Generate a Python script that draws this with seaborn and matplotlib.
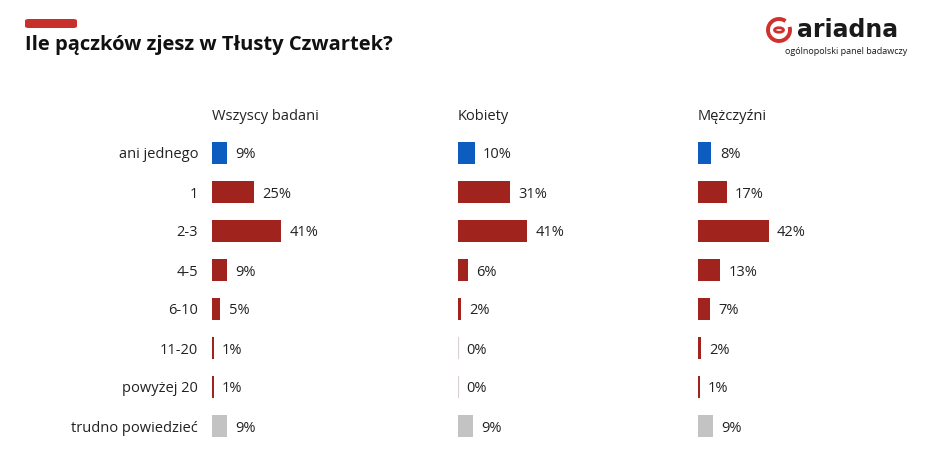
import matplotlib
matplotlib.use('Agg')
import matplotlib.pyplot as plt
from matplotlib.patches import FancyBboxPatch, Arc, Circle
import seaborn as sns
import pandas as pd

categories = ['ani jednego', '1', '2-3', '4-5', '6-10', '11-20', 'powyżej 20', 'trudno powiedzieć']
wszyscy = [9, 25, 41, 9, 5, 1, 1, 9]
kobiety = [10, 31, 41, 6, 2, 0, 0, 9]
mezczyzni = [8, 17, 42, 13, 7, 2, 1, 9]
groups = ['Wszyscy badani', 'Kobiety', 'Mężczyźni']

BLUE = '#0d5cbf'
RED = '#a0231e'
GRAY = '#c3c3c3'
palette = [BLUE] + [RED] * 6 + [GRAY]

sns.set_style('white')
plt.rcParams['font.family'] = ['Open Sans', 'DejaVu Sans']

fig = plt.figure(figsize=(9.25, 4.62), dpi=100)
W, H = 925, 462

lefts = [212, 458, 698]
ax_w = 168 / W
ax_b = 1 - 445.5 / H
ax_h = 312 / H

for i, (name, vals) in enumerate(zip(groups, [wszyscy, kobiety, mezczyzni])):
    df = pd.DataFrame({'cat': categories, 'val': vals})
    ax = fig.add_axes([lefts[i] / W, ax_b, ax_w, ax_h])
    sns.barplot(data=df, x='val', y='cat', hue='cat', palette=palette, legend=False,
                orient='h', width=0.56, ax=ax, saturation=1)
    for p in ax.patches:
        p.set_linewidth(0)
        if p.get_width() == 0:
            p.set_edgecolor('#dcd0d0')
            p.set_linewidth(1.6)
    for c in ax.containers:
        for t in ax.bar_label(c, labels=[f'{v:g}%' for v in c.datavalues], padding=6,
                              fontsize=10.5, color='#222222'):
            t.set_va('center_baseline')
    ax.set_xlim(0, 100)
    ax.set_ylim(7.5, -0.5)
    ax.set_xlabel('')
    ax.set_ylabel('')
    ax.set_xticks([])
    for s in ax.spines.values():
        s.set_visible(False)
    if i == 0:
        ax.tick_params(axis='y', length=0, pad=10, labelsize=10.5, labelcolor='#222222')
        for t in ax.get_yticklabels():
            t.set_va('center_baseline')
    else:
        ax.set_yticks([])
    fig.text(lefts[i] / W, 1 - 114 / H, name, fontsize=10.5, color='#222222',
             ha='left', va='center_baseline')

# title and accent bar
fig.patches.append(FancyBboxPatch((25 / W, 1 - 28 / H), 52 / W, 9 / H,
                                  boxstyle='round,pad=0,rounding_size=0.004',
                                  transform=fig.transFigure, color='#c8302c', lw=0))
fig.text(25 / W, 1 - 45 / H, 'Ile pączków zjesz w Tłusty Czwartek?', fontsize=14.5,
         fontweight='bold', color='#111111', ha='left', va='center')

# logo
cx, cy = 779, 30
fig.patches.append(Arc((cx / W, 1 - cy / H), 22 / W, 22 / H, theta1=70, theta2=30,
                       transform=fig.transFigure, color='#d0312d', lw=2.8))
fig.patches.append(Circle((cx / W, 1 - cy / H), 4.5 / W, transform=fig.transFigure,
                          fill=False, ec='#d0312d', lw=2.0))
fig.text(797 / W, 1 - 37 / H, 'ariadna', fontsize=17, fontweight='bold',
         family='DejaVu Sans', color='#1a1a1a', ha='left', va='baseline')
fig.text(907 / W, 1 - 51 / H, 'ogólnopolski panel badawczy', fontsize=6.5,
         color='#1a1a1a', ha='right', va='center')

fig.savefig('out.png', dpi=100)
